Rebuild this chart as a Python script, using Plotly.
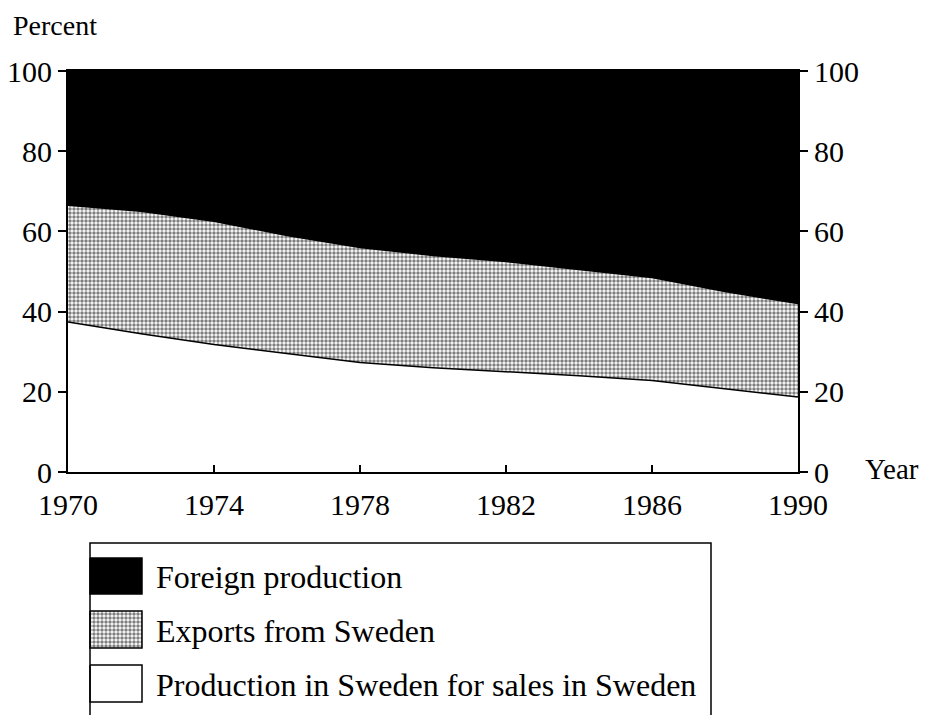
import plotly.graph_objects as go

years = [1970, 1972, 1974, 1976, 1978, 1980, 1982, 1984, 1986, 1988, 1990]
domestic = [37.4, 34.5, 31.8, 29.5, 27.3, 26.0, 25.0, 24.0, 22.8, 20.8, 18.7]
exports = [29.1, 30.5, 30.7, 29.5, 28.7, 28.0, 27.5, 26.5, 25.7, 24.2, 23.3]
foreign = [round(100 - d - e, 1) for d, e in zip(domestic, exports)]

x_ticks = [1970, 1974, 1978, 1982, 1986, 1990]
y_ticks = [0, 20, 40, 60, 80, 100]
legend_labels = ["Foreign production", "Exports from Sweden",
                 "Production in Sweden for sales in Sweden"]

FONT = "Liberation Serif"
FS = 30
FS_LEG = 32
OFF = 8  # browser body margin
W, H = 929 - OFF, 715 - OFF
L, R, T, B = 68, 798, 71, 472  # plot area in reference pixels


def fx(x):
    return (x - OFF) / W


def fy(y):
    return 1 - (y - OFF) / H


PAT = dict(shape=".", size=4, solidity=0.6, fgcolor="black", bgcolor="white")

fig = go.Figure()
fig.add_trace(go.Scatter(x=years, y=domestic, stackgroup="one", mode="lines",
                         line=dict(color="black", width=1.5), fillcolor="white",
                         name=legend_labels[2], showlegend=False))
fig.add_trace(go.Scatter(x=years, y=exports, stackgroup="one", mode="lines",
                         line=dict(color="black", width=1.5), fillpattern=PAT,
                         name=legend_labels[1], showlegend=False))
fig.add_trace(go.Scatter(x=years, y=foreign, stackgroup="one", mode="lines",
                         line=dict(color="black", width=1), fillcolor="black",
                         name=legend_labels[0], showlegend=False))
fig.add_trace(go.Scatter(x=[years[0]], y=[0], yaxis="y2", mode="markers",
                         marker=dict(opacity=0), showlegend=False, hoverinfo="skip"))

# legend swatches drawn on a hidden pixel-coordinate axis pair
sw_rows = [(558, 594), (611, 648), (665, 702)]
sw_x0, sw_x1 = 90, 142
for i, (y0, y1) in enumerate(sw_rows):
    kw = dict(x=[sw_x0, sw_x1, sw_x1, sw_x0, sw_x0], y=[y0, y0, y1, y1, y0],
              xaxis="x3", yaxis="y3", mode="lines", fill="toself",
              line=dict(color="black", width=1.5), showlegend=False, hoverinfo="skip")
    if i == 0:
        kw["fillcolor"] = "black"
    elif i == 1:
        kw["fillpattern"] = PAT
    else:
        kw["fillcolor"] = "white"
    fig.add_trace(go.Scatter(**kw))

axis_font = dict(family=FONT, size=FS, color="black")
xdom = [fx(L), fx(R)]
ydom = [fy(B), fy(T)]
fig.update_layout(
    width=W, height=H,
    margin=dict(l=0, r=0, t=0, b=0, pad=0),
    paper_bgcolor="white", plot_bgcolor="rgba(0,0,0,0)",
    font=dict(family=FONT, size=FS, color="black"),
    xaxis=dict(domain=xdom, range=[1970, 1990], tickvals=x_ticks,
               ticktext=[str(v) for v in x_ticks],
               ticks="inside", ticklen=7, tickwidth=1.5, tickcolor="black",
               ticklabelstandoff=5,
               showline=True, linecolor="black", linewidth=2, mirror=True,
               showgrid=False, zeroline=False, tickfont=axis_font, automargin=False),
    yaxis=dict(domain=ydom, range=[0, 100], tickvals=y_ticks, ticks="outside", ticklen=8,
               tickwidth=1.5, tickcolor="black", showline=True, linecolor="black",
               linewidth=2, showgrid=False, zeroline=False, tickfont=axis_font,
               automargin=False),
    yaxis2=dict(range=[0, 100], tickvals=y_ticks, overlaying="y", side="right",
                anchor="x",
                ticks="outside", ticklen=8, tickwidth=1.5, tickcolor="black",
                showline=True, linecolor="black", linewidth=2, showgrid=False,
                zeroline=False, tickfont=axis_font, automargin=False),
    xaxis3=dict(domain=[0, 1], range=[OFF, 929], visible=False, anchor="y3",
                fixedrange=True),
    yaxis3=dict(domain=[0, 1], range=[715, OFF], visible=False, anchor="x3",
                fixedrange=True),
)

fig.add_annotation(text="Percent", xref="paper", yref="paper", x=fx(12), y=fy(26),
                   xanchor="left", yanchor="middle", showarrow=False, borderpad=0,
                   font=dict(family=FONT, size=28, color="black"))
fig.add_annotation(text="Year", xref="paper", yref="paper", x=fx(864), y=fy(469),
                   xanchor="left", yanchor="middle", showarrow=False, borderpad=0,
                   font=dict(family=FONT, size=29, color="black"))

# legend box
fig.add_shape(type="rect", xref="paper", yref="paper", x0=fx(90), x1=fx(711),
              y0=fy(740), y1=fy(543), line=dict(color="black", width=1.5),
              fillcolor="rgba(0,0,0,0)")
for i, (y0, y1) in enumerate(sw_rows):
    fig.add_annotation(text=legend_labels[i], xref="paper", yref="paper",
                       x=fx(154), y=fy((y0 + y1) / 2 + 1), xanchor="left",
                       yanchor="middle", showarrow=False,
                       font=dict(family=FONT, size=FS_LEG, color="black"))

fig.write_html("out.html")
